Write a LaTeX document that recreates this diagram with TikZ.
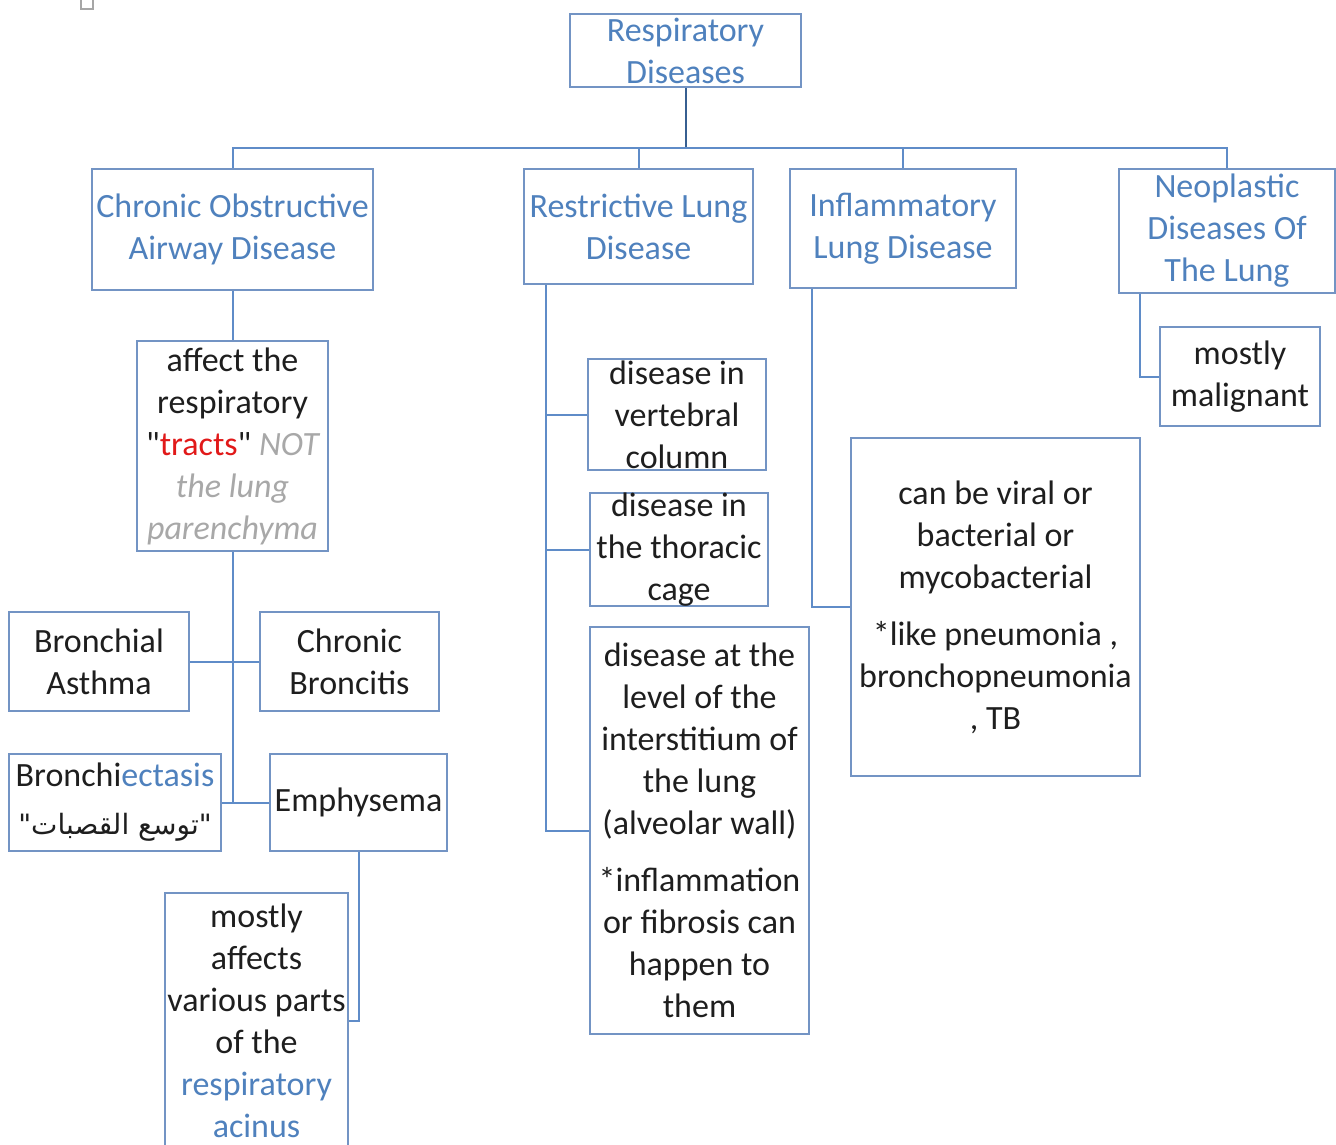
\documentclass[tikz,border=0pt]{standalone}
\usepackage{fontspec}
\setmainfont{Carlito}[Ligatures=TeXOff]
\newfontfamily\arabicfont[Script=Arabic,Ligatures=TeXOff]{DejaVu Sans}
\TeXXeTstate=1
\usepackage{tikz}

\definecolor{boxline}{RGB}{115,148,196}
\definecolor{linkline}{RGB}{95,140,200}
\definecolor{rootline}{RGB}{55,95,145}
\definecolor{txtblue}{RGB}{79,129,189}
\definecolor{txtgray}{RGB}{168,168,168}
\definecolor{txtred}{RGB}{225,25,25}
\definecolor{txtdark}{RGB}{30,30,30}

\tikzset{
  box/.style={draw=boxline, line width=1pt, rectangle, inner sep=0pt,
              align=center, text=txtdark,
              font=\fontsize{17}{21}\selectfont},
  head/.style={box, text=txtblue},
  link/.style={draw=linkline, line width=1pt}
}

\begin{document}
\begin{tikzpicture}[x=0.5pt, y=-0.5pt]
\useasboundingbox (0,0) rectangle (1336,1144);

%% small mark top left
\draw[gray!70, line width=0.6pt] (81,-2) rectangle (93,9);

%% first level
\node[head, minimum width=115.5pt, minimum height=36.5pt] (root) at (685.5,50.5) {Respiratory\\Diseases};
\node[head, minimum width=140.5pt, minimum height=60.5pt] (copd) at (232.5,229.5) {Chronic Obstructive\\Airway Disease};
\node[head, minimum width=114.5pt, minimum height=57.5pt] (rest) at (638.5,226.5) {Restrictive Lung\\Disease};
\node[head, minimum width=113pt, minimum height=59.5pt] (infl) at (903,228.5) {Inflammatory\\Lung Disease};
\node[head, minimum width=108pt, minimum height=62pt] (neo) at (1227,231) {Neoplastic\\Diseases Of\\The Lung};

\coordinate (bus) at (685.5,148);
\draw[draw=rootline, line width=1pt] (root.south) -- (bus);
\draw[link] (copd.north) |- (bus) -| (neo.north);
\draw[link] (rest.north) -- (rest.north |- bus);
\draw[link] (infl.north) -- (infl.north |- bus);

%% chronic obstructive branch
\node[box, minimum width=95.5pt, minimum height=105pt] (affect) at (232.5,446)
  {affect the\\respiratory\\"{\color{txtred}tracts}" {\color{txtgray}\itshape NOT}\\
   {\color{txtgray}\itshape the lung}\\{\color{txtgray}\itshape parenchyma}};
\node[box, minimum width=90pt, minimum height=49.5pt] (asthma) at (99,661.5) {Bronchial\\Asthma};
\node[box, minimum width=89.5pt, minimum height=49.5pt] (broncit) at (349.5,661.5) {Chronic\\Broncitis};
\node[box, minimum width=106pt, minimum height=48.5pt] (bectasis) at (115,802.5)
  {Bronchi{\color{txtblue}ectasis}\\[3pt]{\arabicfont\fontsize{14}{18}\selectfont\beginR "توسع القصبات"\endR}};
\node[box, minimum width=88.5pt, minimum height=48.5pt] (emph) at (358.5,802.5) {Emphysema};
\node[box, minimum width=91.5pt, minimum height=128pt] (acinus) at (256.5,1021)
  {mostly\\affects\\various parts\\of the\\{\color{txtblue}respiratory}\\{\color{txtblue}acinus}};

\coordinate (copdend) at (232.5,802.5);
\draw[link] (copd.south) -- (affect.north);
\draw[link] (affect.south) -- (copdend);
\draw[link] (asthma.east) -- (broncit.west);
\draw[link] (bectasis.east) -- (emph.west);
\draw[link] (emph.south) |- (acinus.east);

%% restrictive branch
\node[box, minimum width=89pt, minimum height=55.5pt] (vert) at (677,414.5) {disease in\\vertebral\\column};
\node[box, minimum width=89pt, minimum height=54.5pt] (thor) at (679,549.5) {disease in\\the thoracic\\cage};
\node[box, minimum width=109.5pt, minimum height=203.5pt] (interst) at (699.5,830.5)
  {disease at the\\level of the\\interstitium of\\the lung\\(alveolar wall)\\[7.5pt]*inflammation\\or fibrosis can\\happen to\\them};

\coordinate (restline) at ([xshift=11.5pt]rest.south west);
\draw[link] (restline) |- (interst.west);
\draw[link] (vert.west) -- (vert.west -| restline);
\draw[link] (thor.west) -- (thor.west -| restline);

%% inflammatory branch
\node[box, minimum width=144.5pt, minimum height=169pt] (viral) at (995.5,607)
  {can be viral or\\bacterial or\\mycobacterial\\[7.5pt]*like pneumonia ,\\bronchopneumonia\\, TB};
\draw[link] ([xshift=11.5pt]infl.south west) |- (viral.west);

%% neoplastic branch
\node[box, minimum width=80pt, minimum height=49.5pt] (malig) at (1240,376.5) {mostly\\malignant};
\draw[link] ([xshift=11pt]neo.south west) |- (malig.west);
\end{tikzpicture}
\end{document}
